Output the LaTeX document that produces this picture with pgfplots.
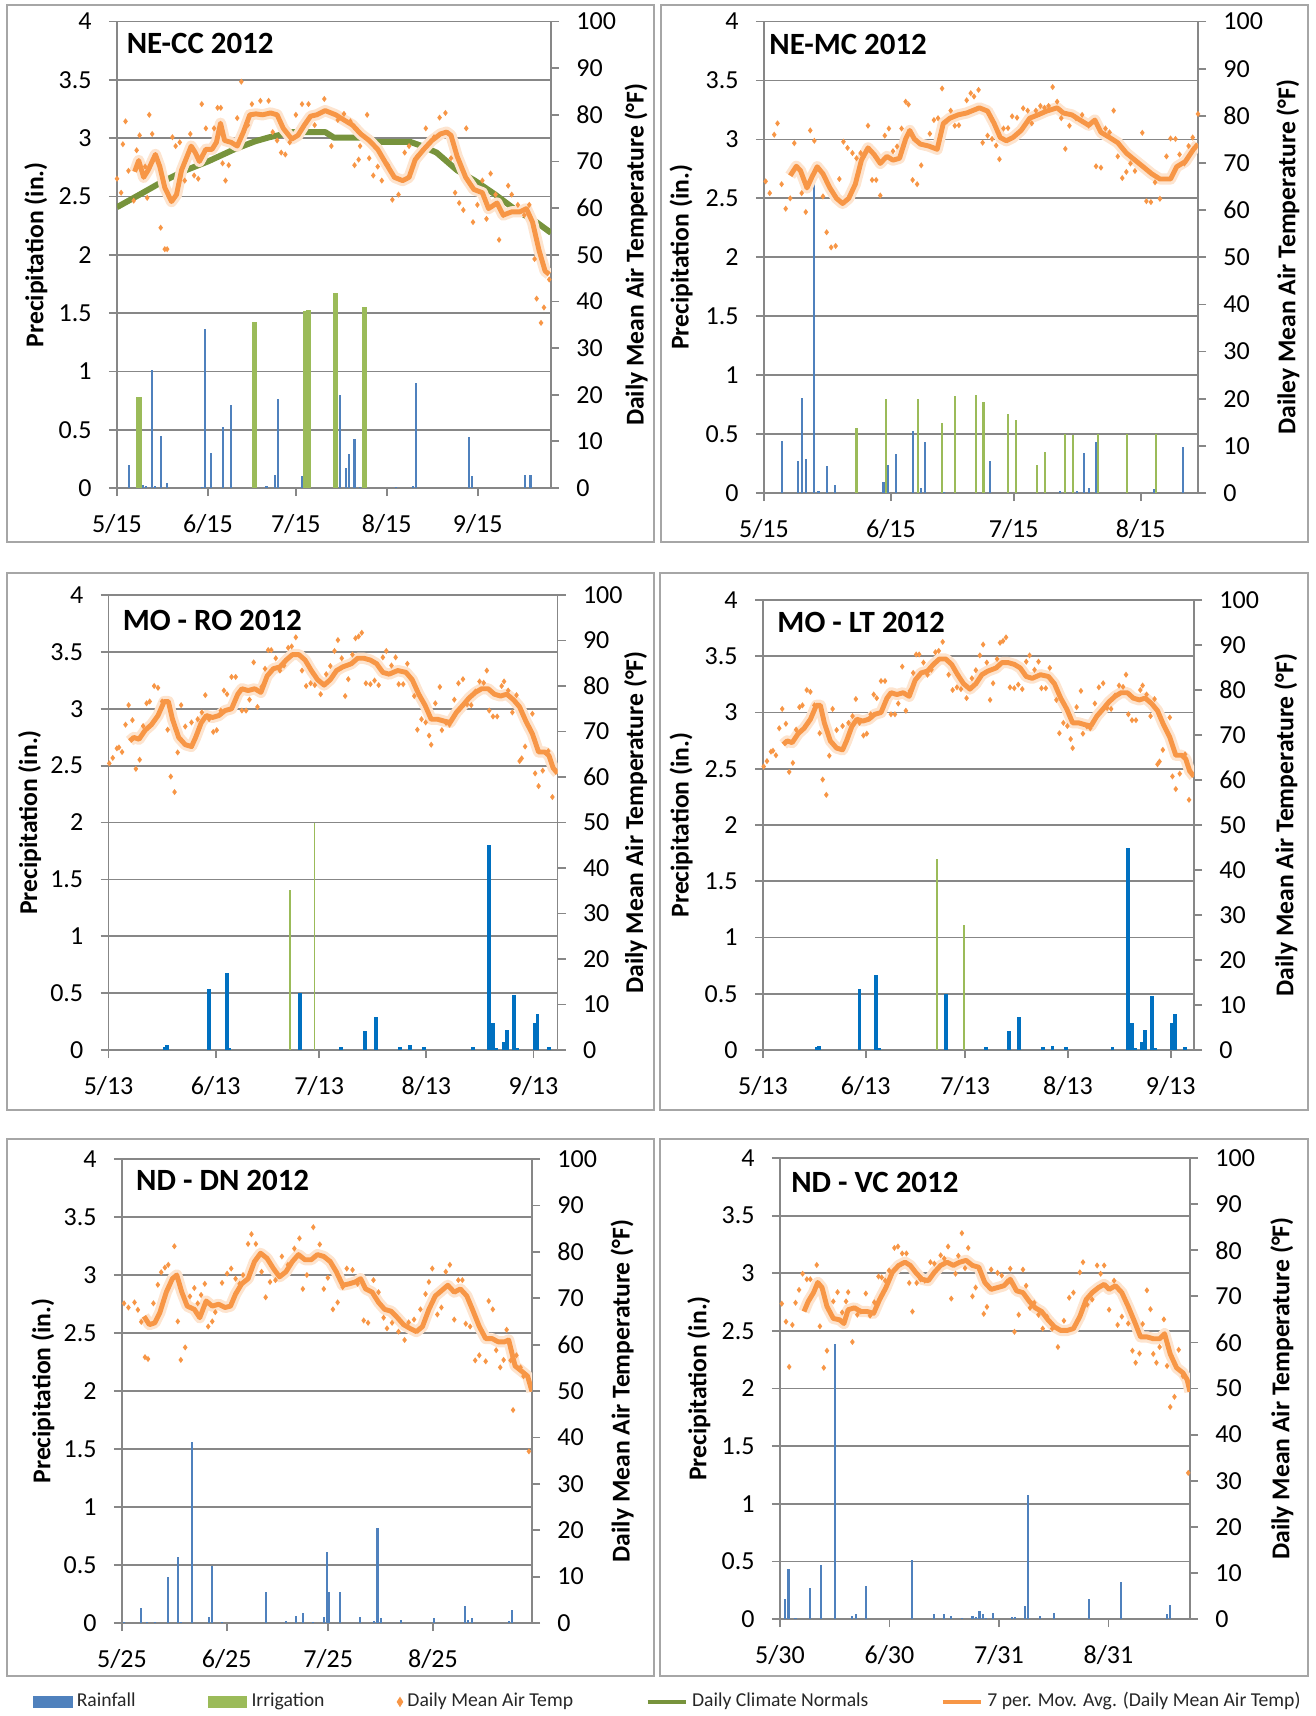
\documentclass[border=0pt]{standalone}
\usepackage{fontspec}
\setmainfont{Carlito}
\usepackage{pgfplots}
\pgfplotsset{compat=1.18}
\usepackage{pgfplotstable}

\definecolor{rainblue}{HTML}{4F81BD}
\definecolor{rainblueb}{HTML}{0070C0}
\definecolor{irrgreen}{HTML}{9BBB59}
\definecolor{tempor}{HTML}{F79646}
\definecolor{glow}{HTML}{FDE4CF}
\definecolor{normgreen}{HTML}{77933C}
\definecolor{gridgray}{HTML}{878787}
\definecolor{framegray}{HTML}{A6A6A6}

\pgfplotsset{
  precip/.style={
    scale only axis, anchor=south west,
    xmin=0, ymin=0, ymax=4,
    ytick={0,0.5,1,1.5,2,2.5,3,3.5,4},
    ymajorgrids, grid style={gridgray, line width=0.5pt},
    axis line style={gridgray, line width=0.5pt},
    tick style={gridgray, line width=0.5pt},
    tick align=outside, major tick length=0.08cm,
    xtick pos=bottom, ytick pos=left,
    tick label style={font=\fontsize{7.4}{8}\selectfont},
    yticklabel style={xshift=-0.5mm},
    xticklabel style={yshift=-0.6mm},
    /pgf/number format/assume math mode=true,
    ylabel={Precipitation (in.)},
    label style={font=\bfseries\fontsize{7.3}{8}\selectfont},
    every axis title shift=0pt,
    title style={anchor=base west, inner sep=0pt, font=\bfseries\fontsize{8.8}{9}\selectfont},
  },
  temp/.style={
    scale only axis, anchor=south west,
    xmin=0, ymin=0, ymax=100,
    ytick={0,10,20,30,40,50,60,70,80,90,100},
    axis y line*=right, axis x line=none,
    axis line style={gridgray, line width=0.5pt},
    tick style={gridgray, line width=0.5pt},
    tick align=outside, major tick length=0.08cm,
    tick label style={font=\fontsize{7.4}{8}\selectfont},
    yticklabel style={xshift=0.5mm},
    /pgf/number format/assume math mode=true,
    label style={font=\bfseries\fontsize{7.3}{8}\selectfont},
    ylabel={Daily Mean Air Temperature (°F)},
  },
  rain/.style={ycomb, draw=rainblue, line width=0.6pt, forget plot},
  rainb/.style={ycomb, draw=rainblueb, line width=1.1pt, forget plot},
  irr/.style={ycomb, draw=irrgreen, line width=0.6pt, forget plot},
  dots/.style={only marks, mark=diamond*, mark size=0.55pt, color=tempor, forget plot},
  maglow/.style={glow, line width=3.2pt, line join=round, forget plot},
  maline/.style={tempor, line width=1.4pt, line join=round, forget plot},
}

% 7-day moving averages (x = days from first tick date, y = deg F)
\pgfplotstableread{
x y
6.0 67.8
7.4 70.2
9.1 66.6
10.6 68.1
11.7 69.6
13.1 71.5
14.6 68.9
16.3 64.4
18.6 61.4
20.3 62.9
22.0 68.1
23.9 71.1
25.3 73.3
26.7 71.9
28.1 70.0
30.3 72.6
32.4 72.6
33.9 74.1
35.3 78.2
36.7 74.5
38.9 74.1
41.0 73.3
43.1 76.3
45.3 80.0
47.4 80.2
49.6 80.0
52.4 80.4
54.6 80.0
56.7 77.1
59.6 74.8
61.7 75.6
63.9 77.8
66.0 79.7
68.1 80.0
71.0 80.9
74.6 80.0
77.4 78.9
80.3 77.8
83.1 75.9
86.0 74.5
88.9 72.6
91.7 69.6
94.6 66.6
97.4 65.9
99.6 66.6
101.7 70.4
104.6 72.6
107.4 74.5
110.3 75.9
112.4 76.3
113.9 75.6
116.0 71.1
118.9 66.6
121.7 64.0
124.6 63.3
126.7 59.9
129.6 61.1
131.7 58.5
134.6 59.2
137.4 59.2
139.6 59.9
141.7 57.0
143.9 51.0
146.0 46.5
147.4 45.8
}\maA

\pgfplotstableread{
x y
6.4 67.3
7.9 69.3
8.9 68.4
10.5 64.7
11.7 67.0
13.0 69.2
14.4 67.7
16.1 64.7
17.7 62.5
19.2 61.4
20.7 62.5
22.3 65.5
23.8 70.6
25.4 73.2
26.9 71.8
28.4 69.9
30.0 71.4
31.5 70.6
33.1 71.0
34.6 75.1
35.6 76.9
36.7 75.1
38.2 74.0
40.2 73.6
42.3 72.9
43.8 78.4
45.4 79.5
47.4 80.2
49.5 80.6
51.5 81.3
52.6 81.7
54.6 81.0
56.2 78.4
57.7 75.4
59.2 74.7
60.8 75.4
62.8 76.9
64.9 79.5
66.9 80.2
69.0 81.0
71.6 81.7
73.1 80.6
75.2 80.2
77.2 79.1
79.3 78.0
80.8 79.1
82.3 76.5
84.4 75.4
86.4 74.3
88.5 72.1
90.6 70.6
92.6 69.2
94.7 67.7
96.7 66.6
99.3 66.6
100.8 69.2
102.9 70.3
104.9 72.9
106.0 74.0
}\maB

\pgfplotstableread{
x y
6.1 67.9
7.3 68.7
8.8 68.3
10.6 70.3
12.4 71.5
14.3 73.5
16.1 76.6
17.3 76.6
18.5 72.7
20.3 68.7
22.2 67.1
24.0 66.7
25.2 68.7
26.8 71.9
28.3 73.5
30.1 73.1
31.9 73.5
33.7 74.6
35.6 75.0
37.4 78.2
38.6 79.4
40.4 79.0
42.3 79.4
44.1 78.6
45.9 82.2
47.7 83.8
49.6 84.2
51.4 85.7
53.2 86.9
55.1 86.9
56.9 85.7
58.7 83.4
60.5 81.4
62.4 80.2
64.2 81.4
66.0 83.4
67.8 84.2
70.3 84.9
72.1 86.1
73.9 86.1
75.8 85.7
77.6 84.9
79.4 83.0
81.2 82.6
83.7 83.4
86.1 83.0
87.9 81.4
89.8 78.2
91.6 75.8
93.4 72.7
95.2 72.7
97.1 72.3
98.9 72.0
100.7 74.2
102.6 75.8
104.4 77.4
106.2 78.6
108.0 79.4
109.9 79.4
111.7 78.2
113.5 77.8
115.3 78.2
117.2 77.0
119.0 75.4
120.8 72.3
122.7 69.5
124.5 65.5
126.3 65.5
127.5 64.7
128.7 62.0
130.0 60.8
}\maC

\pgfplotstableread{
x y
6.5 66.1
8.1 64.3
9.7 64.7
11.2 66.9
13.1 71.3
14.9 74.2
16.2 75.0
17.7 71.3
19.3 68.3
21.4 67.6
23.0 65.8
24.9 69.4
26.7 68.3
28.6 68.7
30.5 68.0
32.1 68.3
33.6 70.9
35.4 73.1
37.3 74.2
39.2 77.9
41.0 79.7
42.9 78.6
44.8 76.4
46.6 74.6
48.5 75.7
50.4 77.9
52.2 79.4
54.1 78.3
56.0 78.3
57.8 79.4
59.7 79.0
61.6 77.9
63.4 75.7
65.3 72.8
67.2 73.1
69.0 73.5
70.6 74.2
72.1 72.0
74.0 71.3
75.9 69.1
77.7 67.6
79.6 67.2
81.5 65.8
83.3 64.3
85.2 63.5
87.1 62.8
88.9 63.9
90.8 67.6
92.7 70.5
94.5 71.6
96.4 72.8
98.3 71.3
100.1 72.0
102.0 70.5
103.9 67.2
105.7 63.9
107.6 61.3
109.5 61.3
111.3 60.6
113.2 60.6
114.4 61.0
116.3 55.4
118.2 54.3
120.0 53.2
121.3 49.9
}\maE

\pgfplotstableread{
x y
6.8 66.7
8.0 68.9
9.5 70.8
10.7 73.0
11.9 71.9
13.3 67.8
15.1 65.2
16.9 64.9
18.1 64.1
19.3 67.1
21.1 67.5
22.9 66.7
24.7 66.7
26.5 66.3
28.2 69.3
30.0 71.9
31.8 75.2
33.6 76.7
35.4 77.4
36.9 76.7
38.4 75.2
40.2 73.7
42.0 73.4
43.7 75.2
45.5 76.7
47.3 77.4
49.1 76.7
50.9 77.4
52.7 77.8
54.5 76.7
56.3 76.3
58.0 73.0
59.8 71.5
61.6 71.9
63.4 72.3
65.2 73.7
67.0 71.2
68.8 70.8
70.6 68.9
72.3 67.5
74.1 66.7
75.9 64.9
77.7 63.4
79.5 62.6
81.3 62.6
83.1 63.0
84.9 65.6
86.7 69.3
88.4 70.8
90.2 71.9
91.8 72.6
93.2 71.5
95.0 72.3
96.8 70.8
98.6 67.8
100.4 64.5
102.1 61.2
103.9 61.2
105.7 60.8
107.5 60.8
108.9 61.9
110.5 57.5
112.3 54.5
114.1 53.4
115.3 51.9
116.1 49.3
}\maF

\begin{document}
\begin{tikzpicture}
\useasboundingbox (0,0) rectangle (13.15,-17.16);

% panel frames
\begin{scope}[framegray, line width=0.7pt]
\draw (0.07,-0.05) rectangle (6.54,-5.42);
\draw (6.61,-0.05) rectangle (13.08,-5.42);
\draw (0.07,-5.73) rectangle (6.54,-11.10);
\draw (6.60,-5.73) rectangle (13.08,-11.10);
\draw (0.07,-11.39) rectangle (6.54,-16.76);
\draw (6.60,-11.39) rectangle (13.08,-16.76);
\end{scope}

%% ---------------- NE-CC 2012 ----------------
\begin{axis}[precip, at={(1.17cm,-4.88cm)}, width=4.34cm, height=4.665cm, xmax=148,
  xtick={0,31,61,92,123}, xticklabels={5/15,6/15,7/15,8/15,9/15},
  ylabel style={at={(axis description cs:-0.187,0.5)}, anchor=center},
  title={NE-CC 2012}, title style={at={(axis description cs:0.021,0.932)}}]
\addplot[rain] coordinates {(4,0.20) (9,0.03) (10,0.02) (12,1.01) (13,0.02) (15,0.45) (17,0.04)
 (29,0.01) (30,1.36) (32,0.30) (36,0.52) (39,0.71) (51,0.02) (54,0.11) (55,0.76) (63,0.10)
 (75,0.03) (76,0.80) (78,0.17) (79,0.29) (81,0.42) (83,0.01) (95,0.01) (101,0.02) (102,0.90)
 (120,0.44) (121,0.10) (139,0.11) (141,0.11)};
\addplot[irr, line width=1.5pt] coordinates {(7.5,0.78) (47,1.42) (64.2,1.52) (65.2,1.53) (74.5,1.67) (84.5,1.55)};
\end{axis}
\begin{axis}[temp, at={(1.17cm,-4.88cm)}, width=4.34cm, height=4.665cm, xmax=148,
  ylabel style={at={(axis description cs:1.196,0.5)}, anchor=center}]
\addplot[dots] coordinates {(0,66.3) (1.4,63.3) (2,73.7) (2.9,78.6) (3.9,68.0) (5.7,61.6) (6.7,72.4)
 (7.7,75.6) (9.6,68.9) (10.3,62.2) (11,80.0) (12,75.9) (14.9,55.8) (16.3,51.2) (17.1,51.2)
 (18.9,75.2) (20,73.3) (21.4,74.1) (23.1,65.9) (25,75.9) (26.3,67.0) (27.7,66.3) (28.9,82.3)
 (30.3,77.1) (33.1,77.1) (34.3,81.5) (35.4,81.5) (36,69.6) (37,65.9) (38.1,69.2) (41,79.3)
 (42.4,87.1) (44.6,77.8) (46,82.3) (48.9,83.0) (51.7,83.0) (53.1,76.3) (54.6,74.5) (56,71.9)
 (57.4,71.5) (58.9,74.1) (61,80.0) (63.1,82.3) (65.3,82.3) (67.4,77.8) (70.7,83.4) (73.1,73.3)
 (75.3,78.9) (77.4,80.2) (79.6,78.6) (81,69.2) (82.4,70.4) (82.9,73.3) (85.3,80.0) (86,70.7)
 (87.4,67.0) (88.9,68.9) (90.3,65.9) (92.4,69.2) (93.9,61.8) (96,62.9) (98.1,71.9) (99.6,73.3)
 (102.4,71.1) (105.3,77.1) (108.1,75.2) (110,79.4) (112,80.4) (113.9,70.7) (115.3,63.3)
 (116.7,61.1) (118.1,59.6) (119.1,77.1) (121.4,57.0) (122.9,60.7) (124.6,65.9) (126,57.7)
 (127.4,67.4) (129.1,62.9) (130.3,53.2) (131.7,58.5) (133.4,64.8) (134.6,62.9) (136.7,60.7)
 (138.9,58.5) (140.6,60.7) (142.4,49.1) (143.1,40.6) (144.6,35.4) (145.6,38.7) (147.4,44.7)};
\addplot[normgreen, line width=1.7pt, line join=round, forget plot] coordinates {(0,60.2) (8,63) (15,65.5)
 (23,68) (31,70) (40,72.6) (47,74.3) (52,75.2) (60,76.3) (71,76.3) (74,75.1) (86,75.1) (88,74.2)
 (100,74.2) (104,73.3) (109,71.9) (116,68.1) (122,65.9) (129,62.9) (136,59.6) (143,57.0) (148,54.7)};
\addplot[maglow] table {\maA};
\addplot[maline] table {\maA};
\end{axis}

%% ---------------- NE-MC 2012 ----------------
\begin{axis}[precip, at={(7.64cm,-4.93cm)}, width=4.34cm, height=4.715cm, xmax=106,
  xtick={0,31,61,92}, xticklabels={5/15,6/15,7/15,8/15},
  ylabel style={at={(axis description cs:-0.191,0.5)}, anchor=center},
  title={NE-MC 2012}, title style={at={(axis description cs:0.011,0.930)}}]
\addplot[rain] coordinates {(4.3,0.44) (8.2,0.27) (9.2,0.81) (10.3,0.29) (12.2,2.77) (13.3,0.02)
 (15.3,0.23) (17.4,0.07) (29.2,0.09) (30.3,0.24) (32.3,0.33) (36.3,0.53) (38.4,0.04) (39.4,0.43)
 (44,0.01) (55.3,0.27) (72.3,0.02) (76.4,0.02) (78.2,0.34) (79.3,0.04) (81.1,0.43) (95.2,0.03)
 (102.4,0.39)};
\addplot[irr] coordinates {(22.6,0.55) (29.7,0.80) (37.6,0.80) (43.5,0.59) (46.6,0.82) (51.7,0.83)
 (53.6,0.77) (59.5,0.67) (61.5,0.62) (66.6,0.24) (68.7,0.35) (73.6,0.50) (75.5,0.49) (81.6,0.50)
 (88.7,0.50) (95.7,0.50)};
\end{axis}
\begin{axis}[temp, at={(7.64cm,-4.93cm)}, width=4.34cm, height=4.715cm, xmax=106,
  ylabel={Dailey Mean Air Temperature (°F)},
  ylabel style={at={(axis description cs:1.207,0.5)}, anchor=center}]
\addplot[dots] coordinates {(0.4,66.1) (1.4,63.6) (2.5,76.0) (3.3,78.4) (4.3,65.5) (5.3,60.3)
 (6.4,62.5) (7.4,74.2) (9.2,63.6) (10.2,59.6) (11.3,76.9) (12.3,74.7) (14.4,62.9) (15.3,55.3)
 (16.4,52.1) (17.5,52.4) (18.4,66.6) (19.4,74.5) (20.4,73.2) (21.6,72.1) (22.6,71.0) (23.6,72.1)
 (25.4,77.9) (26.4,66.4) (27.4,66.4) (28.4,63.1) (29.5,75.8) (30.5,77.3) (31.5,72.5) (32.5,73.5)
 (33.6,77.3) (34.6,83.0) (35.3,82.4) (36.3,66.4) (37.4,65.5) (38.4,69.5) (40.5,76.2) (41.5,79.1)
 (42.5,79.5) (43.5,85.8) (44.6,78.8) (45.6,81.1) (46.6,77.9) (47.6,78.0) (49.5,83.3) (50.5,84.8)
 (51.3,84.1) (52.4,85.5) (53.4,74.3) (54.6,75.8) (55.7,75.1) (56.7,73.7) (57.5,70.8) (58.5,77.3)
 (59.6,77.4) (60.6,79.9) (61.8,79.6) (63.3,81.6) (64.4,81.1) (65.4,78.4) (66.4,81.1) (67.5,82.1)
 (68.5,81.7) (69.5,82.1) (70.5,86.1) (71.6,83.0) (72.6,79.5) (73.6,73.0) (74.6,77.9) (76.2,79.5)
 (77.7,80.2) (79.3,77.9) (81.1,69.3) (82.3,69.0) (83.4,77.3) (84.4,76.5) (85.4,81.1) (86.4,71.4)
 (87.5,66.8) (88.5,68.1) (89.5,69.9) (90.6,68.3) (92.4,76.4) (93.4,61.9) (94.5,61.7) (95.5,65.9)
 (96.7,62.4) (98.3,71.4) (99.3,75.2) (100.5,75.1) (101.5,71.8) (102.7,69.9) (103.7,73.6)
 (104.7,75.4) (106.0,80.4)};
\addplot[maglow] table {\maB};
\addplot[maline] table {\maB};
\end{axis}

%% ---------------- MO - RO 2012 ----------------
\begin{axis}[precip, at={(1.086cm,-10.50cm)}, width=4.49cm, height=4.55cm, xmax=130,
  xtick={0,31,61,92,123}, xticklabels={5/13,6/13,7/13,8/13,9/13},
  ylabel style={at={(axis description cs:-0.176,0.5)}, anchor=center},
  title={MO - RO 2012}, title style={at={(axis description cs:0.030,0.922)}}]
\addplot[rainb] coordinates {(16.3,0.03) (17,0.04) (29.1,0.54) (34.2,0.68) (35,0.02) (55.3,0.50)
 (67.2,0.03) (74.3,0.17) (77.3,0.29) (84.4,0.03) (87.3,0.04) (91.4,0.03) (105.4,0.03) (110.2,1.80)
 (111.3,0.24) (112.3,0.02) (114.4,0.07) (115.3,0.18) (117.4,0.48) (118.3,0.02) (123.3,0.24)
 (124.2,0.32) (127.4,0.03)};
\addplot[irr, line width=0.5pt] coordinates {(52.6,1.41) (59.6,2.00)};
\end{axis}
\begin{axis}[temp, at={(1.086cm,-10.50cm)}, width=4.49cm, height=4.55cm, xmax=130,
  ylabel style={at={(axis description cs:1.174,0.5)}, anchor=center}]
\addplot[dots] coordinates {(0.2,63.0) (1.2,64.2) (2.4,66.3) (3.0,66.5) (3.9,65.5) (4.9,71.5)
 (5.8,75.8) (6.9,72.5) (7.9,61.8) (9.0,63.8) (10.0,71.2) (11.0,76.2) (11.9,76.6) (13.2,80.0)
 (14.3,79.6) (15.5,76.6) (17.1,70.4) (18.0,60.1) (19.1,56.7) (20.0,65.4) (21.0,75.8) (22.2,71.1)
 (24.0,72.0) (25.8,72.7) (27.0,74.2) (28.0,78.0) (29.1,72.7) (30.3,69.9) (31.3,70.3) (32.5,74.6)
 (33.4,79.0) (34.3,78.2) (35.6,82.0) (36.8,82.0) (38.6,74.6) (39.8,74.6) (40.8,77.0) (42.0,85.2)
 (43.1,75.4) (44.3,79.8) (45.3,83.8) (46.2,87.9) (47.1,87.9) (48.4,86.1) (49.6,83.4) (50.8,84.5)
 (52.0,88.4) (53.0,88.7) (54.2,90.7) (56.0,83.4) (57.2,80.0) (58.5,80.6) (59.7,80.2) (61.4,78.2)
 (63.0,82.6) (64.2,84.4) (65.4,87.7) (66.4,90.1) (67.5,86.1) (68.5,77.8) (69.4,81.5) (70.6,86.9)
 (71.5,90.5) (72.4,90.9) (73.3,91.7) (74.5,80.6) (75.8,80.4) (77.0,81.2) (78.2,80.2) (79.4,86.3)
 (80.4,87.7) (81.9,84.5) (83.1,86.3) (84.0,80.4) (85.3,80.4) (86.5,84.9) (87.3,81.8) (88.5,77.8)
 (89.4,70.4) (90.6,72.7) (91.8,72.0) (92.8,69.1) (93.4,67.1) (94.6,76.2) (95.9,79.8) (96.5,70.3)
 (97.7,71.9) (98.7,71.5) (100.1,77.0) (101.3,80.6) (102.6,81.5) (103.8,76.0) (105.0,75.8)
 (106.2,78.8) (107.4,81.0) (108.6,80.7) (109.5,83.4) (110.2,74.6) (111.3,73.3) (112.5,73.3)
 (113.8,80.0) (114.5,81.0) (115.7,79.0) (116.9,74.2) (118.1,78.0) (119.0,63.5) (119.6,64.1)
 (120.6,66.7) (122.7,73.9) (123.5,60.8) (124.5,58.0) (125.7,61.4) (127.3,65.7) (128.5,55.6)};
\addplot[maglow] table {\maC};
\addplot[maline] table {\maC};
\end{axis}

%% ---------------- MO - LT 2012 ----------------
\begin{axis}[precip, at={(7.63cm,-10.50cm)}, width=4.31cm, height=4.50cm, xmax=130,
  xtick={0,31,61,92,123}, xticklabels={5/13,6/13,7/13,8/13,9/13},
  ylabel style={at={(axis description cs:-0.190,0.5)}, anchor=center},
  title={MO - LT 2012}, title style={at={(axis description cs:0.032,0.928)}}]
\addplot[rainb] coordinates {(16.3,0.03) (17,0.04) (29.1,0.54) (34.2,0.67) (35,0.02) (55.3,0.50)
 (67.2,0.03) (74.3,0.17) (77.3,0.29) (84.4,0.03) (87.3,0.04) (91.4,0.03) (105.4,0.03) (110.2,1.80)
 (111.3,0.24) (112.3,0.02) (114.4,0.07) (115.3,0.18) (117.4,0.48) (118.3,0.02) (123.3,0.24)
 (124.2,0.32) (127.4,0.03)};
\addplot[irr, line width=0.5pt] coordinates {(52.5,1.70) (60.7,1.11)};
\end{axis}
\begin{axis}[temp, at={(7.63cm,-10.50cm)}, width=4.31cm, height=4.50cm, xmax=130,
  ylabel style={at={(axis description cs:1.213,0.5)}, anchor=center}]
\addplot[dots] coordinates {(0.2,63.0) (1.2,64.2) (2.4,66.3) (3.0,66.5) (3.9,65.5) (4.9,71.5)
 (5.8,75.8) (6.9,72.5) (7.9,61.8) (9.0,63.8) (10.0,71.2) (11.0,76.2) (11.9,76.6) (13.2,80.0)
 (14.3,79.6) (15.5,76.6) (17.1,70.4) (18.0,60.1) (19.1,56.7) (20.0,65.4) (21.0,75.8) (22.2,71.1)
 (24.0,72.0) (25.8,72.7) (27.0,74.2) (28.0,78.0) (29.1,72.7) (30.3,69.9) (31.3,70.3) (32.5,74.6)
 (33.4,79.0) (34.3,78.2) (35.6,82.0) (36.8,82.0) (38.6,74.6) (39.8,74.6) (40.8,77.0) (42.0,85.2)
 (43.1,75.4) (44.3,79.8) (45.3,83.8) (46.2,87.9) (47.1,87.9) (48.4,86.1) (49.6,83.4) (50.8,84.5)
 (52.0,88.4) (53.0,88.7) (54.2,90.7) (56.0,83.4) (57.2,80.0) (58.5,80.6) (59.7,80.2) (61.4,78.2)
 (63.0,82.6) (64.2,84.4) (65.4,87.7) (66.4,90.1) (67.5,86.1) (68.5,77.8) (69.4,81.5) (70.6,86.9)
 (71.5,90.5) (72.4,90.9) (73.3,91.7) (74.5,80.6) (75.8,80.4) (77.0,81.2) (78.2,80.2) (79.4,86.3)
 (80.4,87.7) (81.9,84.5) (83.1,86.3) (84.0,80.4) (85.3,80.4) (86.5,84.9) (87.3,81.8) (88.5,77.8)
 (89.4,70.4) (90.6,72.7) (91.8,72.0) (92.8,69.1) (93.4,67.1) (94.6,76.2) (95.9,79.8) (96.5,70.3)
 (97.7,71.9) (98.7,71.5) (100.1,77.0) (101.3,80.6) (102.6,81.5) (103.8,76.0) (105.0,75.8)
 (106.2,78.8) (107.4,81.0) (108.6,80.7) (109.5,83.4) (110.2,74.6) (111.3,73.3) (112.5,73.3)
 (113.8,80.0) (114.5,81.0) (115.7,79.0) (116.9,74.2) (118.1,78.0) (119.0,63.5) (119.6,64.1)
 (120.6,66.7) (122.7,73.9) (123.5,60.8) (124.5,58.0) (125.7,61.4) (127.3,65.7) (128.5,55.6)};
\addplot[maglow] table {\maC};
\addplot[maline] table {\maC};
\end{axis}

%% ---------------- ND - DN 2012 ----------------
\begin{axis}[precip, at={(1.22cm,-16.23cm)}, width=4.10cm, height=4.64cm, xmax=121.3,
  xtick={0,31,61,92}, xticklabels={5/25,6/25,7/25,8/25},
  ylabel style={at={(axis description cs:-0.193,0.5)}, anchor=center},
  title={ND - DN 2012}, title style={at={(axis description cs:0.033,0.932)}},
  legend style={at={(1.334,-0.170)}, anchor=center, draw=none, fill=none,
    legend columns=5, font=\fontsize{5.6}{6.5}\selectfont, text=black!85,
    nodes={inner xsep=1.2pt},
    /tikz/every even column/.append style={column sep=0.68cm}}]
\addlegendimage{legend image code/.code={\fill[rainblue] (0cm,-0.05cm) rectangle (0.38cm,0.05cm);}}
\addlegendimage{legend image code/.code={\fill[irrgreen] (0cm,-0.05cm) rectangle (0.38cm,0.05cm);}}
\addlegendimage{legend image code/.code={\fill[tempor] (0.19cm,0cm) +(-0.25mm,0mm) -- +(0mm,0.4mm) -- +(0.25mm,0mm) -- +(0mm,-0.4mm) -- cycle;}}
\addlegendimage{legend image code/.code={\draw[normgreen, line width=1.3pt] (0cm,0cm) -- (0.38cm,0cm);}}
\addlegendimage{legend image code/.code={\draw[tempor, line width=1.3pt] (0cm,0cm) -- (0.38cm,0cm);}}
\legend{Rainfall, Irrigation, Daily Mean Air Temp, Daily Climate Normals, 7 per. Mov. Avg. (Daily Mean Air Temp)}
\addplot[rain] coordinates {(0.6,0.01) (5.7,0.13) (7.5,0.01) (9.7,0.01) (13.7,0.40) (16.5,0.57)
 (17.4,0.01) (20.6,1.56) (25.7,0.05) (26.5,0.49) (29.5,0.01) (42.5,0.27) (48.6,0.02) (51.6,0.06)
 (53.5,0.09) (56.5,0.01) (59.7,0.05) (60.6,0.61) (61.3,0.27) (64.4,0.27) (70.5,0.05) (74.6,0.02)
 (75.6,0.82) (76.6,0.04) (82.5,0.03) (92.4,0.04) (101.4,0.15) (102.3,0.03) (103.5,0.04)
 (114.4,0.02) (115.4,0.11)};
\end{axis}
\begin{axis}[temp, at={(1.22cm,-16.23cm)}, width=4.10cm, height=4.64cm, xmax=121.3,
  ylabel style={at={(axis description cs:1.22,0.5)}, anchor=center}]
\addplot[dots] coordinates {(0.6,68.9) (1.9,68.0) (3.7,69.1) (4.7,67.5) (5.7,64.9) (6.8,57.3)
 (7.7,56.9) (9.3,68.9) (10.6,72.9) (11.6,75.6) (12.7,76.6) (13.7,77.2) (15.5,81.2) (16.5,65.0)
 (17.4,56.7) (18.7,59.4) (20.1,70.4) (21.4,72.2) (22.4,68.9) (23.4,70.7) (24.5,73.1) (25.5,63.9)
 (26.7,65.0) (27.6,67.0) (29.6,73.3) (31.1,75.3) (32.3,76.4) (33.6,74.2) (34.8,73.1) (35.8,75.0)
 (37.3,81.7) (38.3,83.8) (39.6,81.7) (41.3,75.7) (42.5,70.2) (43.8,73.5) (45.4,73.9) (47.3,79.0)
 (49.1,77.2) (51.0,80.7) (52.5,82.9) (53.5,72.0) (54.7,75.0) (56.6,85.3) (58.5,81.6) (59.7,72.0)
 (60.9,74.4) (62.4,67.6) (63.8,69.1) (65.3,72.4) (66.5,76.4) (68.2,76.1) (69.7,73.1) (71.5,65.2)
 (72.8,64.7) (74.4,73.9) (75.9,71.3) (77.4,65.8) (78.4,63.5) (79.9,64.7) (81.8,62.8) (83.6,61.0)
 (84.8,64.8) (86.4,65.4) (88.3,67.6) (89.8,70.9) (90.8,73.5) (91.8,76.4) (93.3,66.5) (94.5,68.0)
 (95.8,75.7) (97.0,77.2) (98.3,65.4) (99.5,73.9) (100.7,73.9) (101.7,64.5) (103.0,63.9)
 (104.5,56.6) (105.7,57.7) (107.6,56.4) (108.5,69.4) (109.7,67.6) (110.7,58.8) (111.9,55.1)
 (112.9,56.7) (113.8,63.2) (115.0,56.6) (115.7,45.9) (116.7,57.7) (117.9,55.1) (118.8,53.2)
 (120.4,37.0)};
\addplot[maglow] table {\maE};
\addplot[maline] table {\maE};
\end{axis}

%% ---------------- ND - VC 2012 ----------------
\begin{axis}[precip, at={(7.80cm,-16.19cm)}, width=4.10cm, height=4.61cm, xmax=116.1,
  xtick={0,31,62,93}, xticklabels={5/30,6/30,7/31,8/31},
  ylabel style={at={(axis description cs:-0.198,0.5)}, anchor=center},
  title={ND - VC 2012}, title style={at={(axis description cs:0.026,0.926)}}]
\addplot[rain] coordinates {(1.4,0.17) (2.4,0.43) (4.4,0.01) (8.6,0.27) (11.6,0.47) (15.5,2.39)
 (20.5,0.03) (21.5,0.04) (24.4,0.29) (37.5,0.51) (43.5,0.04) (46.5,0.04) (48.5,0.03) (51.5,0.01)
 (54.5,0.03) (55.5,0.02) (56.5,0.07) (57.4,0.04) (58.4,0.01) (60.4,0.05) (65.6,0.02) (66.6,0.02)
 (69.4,0.11) (70.3,1.08) (73.5,0.03) (77.5,0.05) (87.5,0.17) (96.5,0.32) (109.5,0.04) (110.5,0.12)};
\end{axis}
\begin{axis}[temp, at={(7.80cm,-16.19cm)}, width=4.10cm, height=4.61cm, xmax=116.1,
  ylabel style={at={(axis description cs:1.224,0.5)}, anchor=center}]
\addplot[dots] coordinates {(0.5,68.4) (1.7,64.5) (2.6,54.7) (3.5,63.8) (4.4,68.6) (5.4,71.4)
 (6.4,74.9) (7.6,73.7) (8.6,73.7) (10.4,76.8) (11.3,63.5) (12.4,54.5) (13.3,58.2) (15.1,68.9)
 (16.3,70.9) (17.6,66.5) (18.7,68.9) (19.3,70.9) (20.5,60.1) (21.9,66.0) (22.9,66.7) (24.3,70.6)
 (25.5,65.8) (26.7,68.7) (27.9,74.3) (28.8,74.1) (29.8,73.4) (30.9,75.6) (32.4,80.5) (33.4,80.8)
 (34.6,79.3) (35.8,79.3) (36.6,72.9) (37.5,66.7) (38.7,72.9) (39.8,73.7) (41.0,73.4) (42.6,77.4)
 (43.7,77.1) (45.5,78.9) (46.5,78.2) (47.6,80.8) (48.5,69.5) (49.7,74.9) (50.5,78.8) (51.5,83.7)
 (52.4,76.1) (53.3,80.5) (54.5,70.0) (55.4,71.9) (56.6,75.6) (57.7,66.2) (58.6,67.7) (59.8,75.8)
 (61.6,75.1) (62.8,74.5) (64.3,73.2) (65.2,76.0) (66.4,62.3) (67.6,66.0) (68.8,75.8) (69.7,72.3)
 (70.8,67.5) (72.0,68.6) (73.2,66.0) (74.4,63.0) (75.6,65.6) (77.1,63.0) (78.7,59.0) (80.4,64.7)
 (81.9,69.7) (83.1,70.8) (84.9,75.2) (85.8,77.4) (87.0,68.2) (88.4,69.3) (89.8,76.7) (90.8,74.9)
 (91.8,76.7) (93.2,67.1) (94.6,73.4) (95.6,63.8) (96.8,65.6) (98.6,64.1) (99.8,58.2) (100.7,55.6)
 (101.8,57.6) (102.7,64.0) (103.9,71.3) (104.9,67.2) (105.7,57.5) (106.6,55.6) (107.5,59.0)
 (108.7,65.0) (109.6,54.9) (110.5,46.0) (111.7,48.2) (112.9,58.4) (114.1,52.7) (115.6,31.7)};
\addplot[maglow] table {\maF};
\addplot[maline] table {\maF};
\end{axis}
\end{tikzpicture}
\end{document}
